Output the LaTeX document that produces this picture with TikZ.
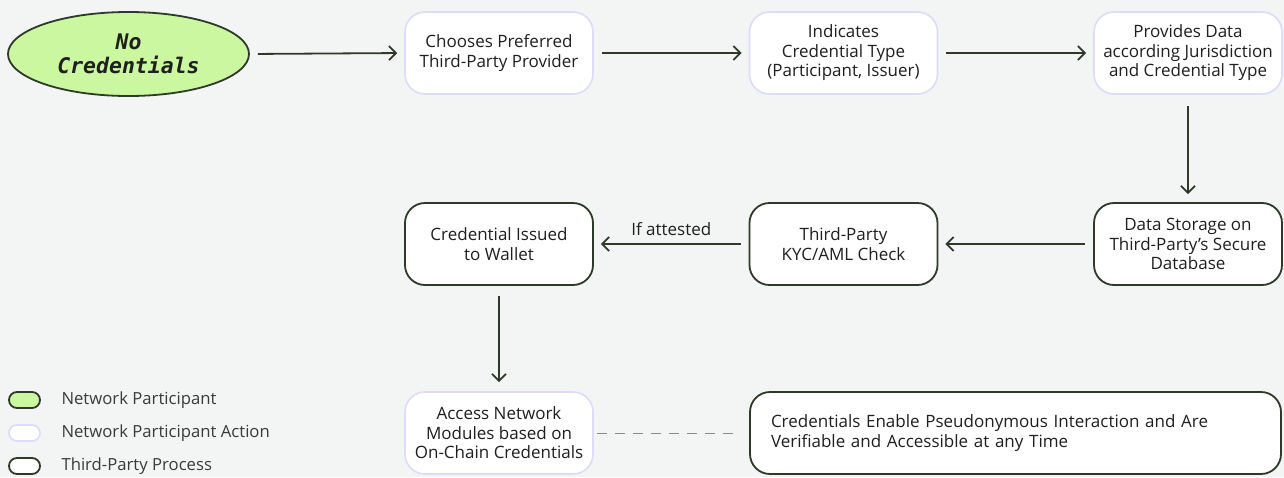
\documentclass[tikz,border=0pt]{standalone}
\usepackage{fontspec}
\setmainfont{Open Sans}
\newfontfamily\codefont{DejaVu Sans Mono}
\usetikzlibrary{arrows.meta,shapes.geometric}

\definecolor{bg}{HTML}{F3F4F4}
\definecolor{ink}{HTML}{2D3A29}
\definecolor{leaf}{HTML}{CBF7A1}
\definecolor{lilac}{HTML}{DCDBFA}
\definecolor{txt}{HTML}{1F1F1F}
\definecolor{legendtxt}{HTML}{3A3A3A}
\definecolor{dashgray}{HTML}{8A8A8A}

\tikzset{
  boxbase/.style={rectangle, rounded corners=20pt, fill=white,
    minimum width=188pt, minimum height=82pt, align=center,
    inner sep=2pt, text=txt, font=\fontsize{17}{19.5}\selectfont},
  actionbox/.style={boxbase, draw=lilac, line width=1.6pt},
  processbox/.style={boxbase, draw=ink, line width=1.8pt},
  flow/.style={-{Straight Barb[length=7pt,width=14pt]}, draw=ink, line width=1.8pt},
  hflow/.style={flow, shorten <=8pt, shorten >=7pt},
  vflow/.style={flow, shorten <=11pt, shorten >=8pt},
  keyshape/.style={rectangle, rounded corners=8pt, minimum width=31pt,
    minimum height=16pt, inner sep=0pt},
  keylabel/.style={anchor=west, text=legendtxt, font=\fontsize{16.7}{19}\selectfont}
}

\begin{document}
\begin{tikzpicture}[x=1pt, y=-1pt]
  \fill[bg] (0,0) rectangle (1284,477);
  \useasboundingbox (0,0) rectangle (1284,477);

  % top row
  \node[ellipse, draw=ink, line width=1.8pt, fill=leaf, minimum width=241pt,
        minimum height=84pt, inner sep=0pt, align=center, text=txt,
        font=\codefont\bfseries\itshape\fontsize{21.5}{24}\selectfont]
        (start) at (128.5,54) {No\\Credentials};
  \node[actionbox] (choose) at (499,53) {Chooses Preferred\\Third-Party Provider};
  \node[actionbox] (indicate) at (843.5,53) {Indicates\\Credential Type\\(Participant, Issuer)};
  \node[actionbox] (provide) at (1188,53) {Provides Data\\according Jurisdiction\\and Credential Type};

  % middle row
  \node[processbox] (storage) at (1188,244) {Data Storage on\\Third-Party's Secure\\Database};
  \node[processbox] (kyc) at (843.5,244) {Third-Party\\KYC/AML Check};
  \node[processbox] (issued) at (499,244) {Credential Issued\\to Wallet};

  % bottom row
  \node[actionbox] (access) at (499,433) {Access Network\\Modules based on\\On-Chain Credentials};
  \node[processbox, minimum width=531pt, text width=489pt, inner xsep=21pt, align=left]
        (enable) at (1015.5,433)
        {Credentials Enable Pseudonymous Interaction and Are\\Verifiable and Accessible at any Time};

  % connectors
  \draw[hflow] (start.east) -- (choose.west);
  \draw[hflow] (choose.east) -- (indicate.west);
  \draw[hflow] (indicate.east) -- (provide.west);
  \draw[vflow] (provide.south) -- (storage.north);
  \draw[hflow] (storage.west) -- (kyc.east);
  \draw[hflow] (kyc.west) -- node[above=4pt, text=txt, font=\fontsize{17}{19.5}\selectfont] {If attested} (issued.east);
  \draw[vflow, shorten <=10pt, shorten >=9pt] (issued.south) -- (access.north);
  \draw[dashgray, line width=1pt, dash pattern=on 10pt off 8pt, shorten <=3pt, shorten >=15pt]
        (access.east) -- (enable.west);

  % legend
  \node[keyshape, draw=ink, line width=1.8pt, fill=leaf] (k1) at (24.5,400) {};
  \node[keyshape, draw=lilac, line width=1.6pt, fill=white] (k2) at (24.5,433) {};
  \node[keyshape, draw=ink, line width=1.8pt, fill=white] (k3) at (24.5,466) {};
  \node[keylabel] (l1) at (58,400) {Network Participant};
  \node[keylabel] (l2) at (58,433) {Network Participant Action};
  \node[keylabel] (l3) at (58,466) {Third-Party Process};
\end{tikzpicture}
\end{document}
